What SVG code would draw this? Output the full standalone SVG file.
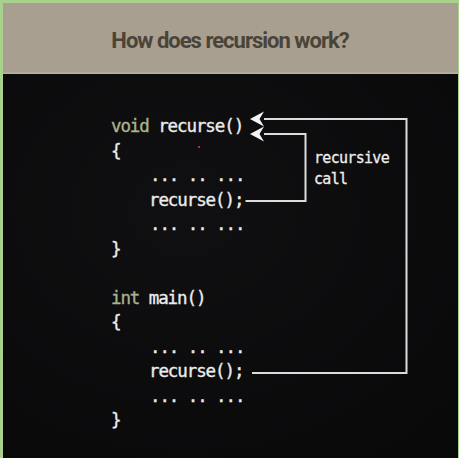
<svg xmlns="http://www.w3.org/2000/svg" width="459" height="458" viewBox="0 0 459 458">
  <defs>
    <radialGradient id="bg" cx="0.4" cy="0.35" r="0.8">
      <stop offset="0" stop-color="#101012"/>
      <stop offset="1" stop-color="#09090a"/>
    </radialGradient>
    <marker id="arrow" viewBox="0 0 14 16" refX="0" refY="8" markerWidth="14" markerHeight="16" markerUnits="userSpaceOnUse" orient="auto">
      <path d="M14,8 L0,0.5 L4.5,8 L0,15.5 Z" fill="#f4f4f4"/>
    </marker>
    <style>
      .code { font-family: "DejaVu Sans Mono", "Liberation Mono", monospace; font-size: 17.5px; fill: #ececec; stroke: #ececec; stroke-width: 0.35px; letter-spacing: -1.1px; }
      .kw { fill: #a9b38e; stroke: #a9b38e; }
      .lbl { font-family: "DejaVu Sans Mono", "Liberation Mono", monospace; font-size: 15px; fill: #ececec; stroke: #ececec; stroke-width: 0.3px; letter-spacing: -0.7px; }
      .title { font-family: Roboto, "Liberation Sans", sans-serif; font-size: 22px; font-weight: 700; fill: #4a4438; letter-spacing: -1px; }
      .conn { fill: none; stroke: #dcdcdc; stroke-width: 2; }
    </style>
  </defs>

  <!-- frame and background -->
  <rect x="0" y="0" width="459" height="458" fill="#a9d18e"/>
  <rect x="3" y="3" width="455" height="71" fill="#a89f91"/>
  <rect x="3" y="72.5" width="455" height="1.5" fill="#b9b1a4"/>
  <rect x="3" y="74" width="455" height="384" fill="url(#bg)"/>

  <g id="title">
    <text class="title" x="230" y="48" text-anchor="middle">How does recursion work?</text>
  </g>

  <g id="node-recurse">
    <text class="code" x="111" y="132"><tspan class="kw">void</tspan> recurse()</text>
    <text class="code" x="111" y="156.5">{</text>
    <text class="code" x="150" y="181">... .. ...</text>
    <text class="code" x="149" y="205.5">recurse();</text>
    <text class="code" x="150" y="230">... .. ...</text>
    <text class="code" x="111" y="254.5">}</text>
  </g>

  <g id="node-main">
    <text class="code" x="111" y="303.5"><tspan class="kw">int</tspan> main()</text>
    <text class="code" x="111" y="328">{</text>
    <text class="code" x="150" y="352.5">... .. ...</text>
    <text class="code" x="149" y="377">recurse();</text>
    <text class="code" x="150" y="401.5">... .. ...</text>
    <text class="code" x="111" y="426">}</text>
  </g>

  <g id="label-recursive-call">
    <text class="lbl" x="314" y="163">recursive</text>
    <text class="lbl" x="314" y="184">call</text>
  </g>

  <circle cx="199" cy="147" r="1" fill="#c0504d"/>

  <g id="connectors">
    <path class="conn" d="M245.5,201 H305.5 V134 H264" marker-end="url(#arrow)"/>
    <path class="conn" d="M252,373 H406.5 V119 H264" marker-end="url(#arrow)"/>
  </g>
</svg>
